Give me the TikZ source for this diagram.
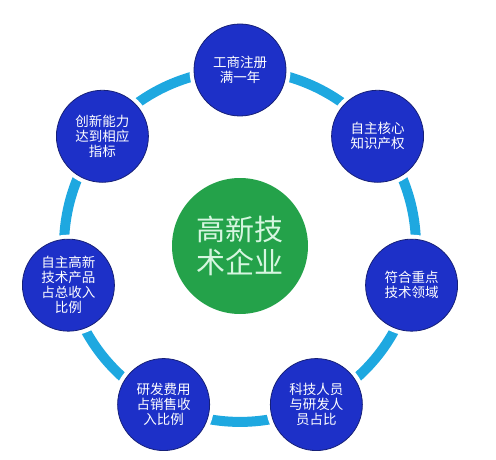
\documentclass[tikz,border=0pt]{standalone}
\usepackage{fontspec}
\setmainfont{Noto Sans CJK SC}
\usetikzlibrary{calc,backgrounds}

\definecolor{ringblue}{RGB}{30,168,224}
\definecolor{itemblue}{RGB}{29,48,200}
\definecolor{itemedge}{RGB}{22,32,120}
\definecolor{hubgreen}{RGB}{36,162,74}
\definecolor{hubtext}{RGB}{214,246,224}

\begin{document}
\begin{tikzpicture}[
  x=1pt, y=1pt,
  item/.style={circle, fill=itemblue, draw=itemedge, line width=0.8pt, minimum size=92pt, inner sep=0pt,
    preaction={draw=white, line width=9pt}, text=white, align=center,
    font=\fontsize{13.5}{15}\selectfont},
  hub/.style={circle, fill=hubgreen, minimum size=136pt, inner sep=0pt, text=hubtext, align=center,
    font=\fontsize{29}{33}\selectfont},
  ring/.style={draw=ringblue, line width=10pt, bend left=25.71, looseness=0.896}
]
\useasboundingbox (0,0) rectangle (496,459);

% 中心
\node[hub] (hub) at (240,213) {高新技\\术企业};

% 外圈条件
\node[item] (reg) at ($(hub)+(90:176)$) {工商注册\\满一年};
\node[item] (ip) at ($(hub)+(38.571:176)$) {自主核心\\知识产权};
\node[item] (field) at ($(hub)+(-12.857:176)$) {符合重点\\技术领域};
\node[item] (staff) at ($(hub)+(-64.286:176)$) {科技人员\\与研发人\\员占比};
\node[item] (cost) at ($(hub)+(-115.714:176)$) {研发费用\\占销售收\\入比例};
\node[item] (prod) at ($(hub)+(-167.143:176)$) {自主高新\\技术产品\\占总收入\\比例};
\node[item] (innov) at ($(hub)+(141.429:176)$) {创新能力\\达到相应\\指标};

% 圆环
\begin{pgfonlayer}{background}
\draw[ring] (reg.center) to (ip.center);
\draw[ring] (ip.center) to (field.center);
\draw[ring] (field.center) to (staff.center);
\draw[ring] (staff.center) to (cost.center);
\draw[ring] (cost.center) to (prod.center);
\draw[ring] (prod.center) to (innov.center);
\draw[ring] (innov.center) to (reg.center);
\end{pgfonlayer}

\end{tikzpicture}
\end{document}
